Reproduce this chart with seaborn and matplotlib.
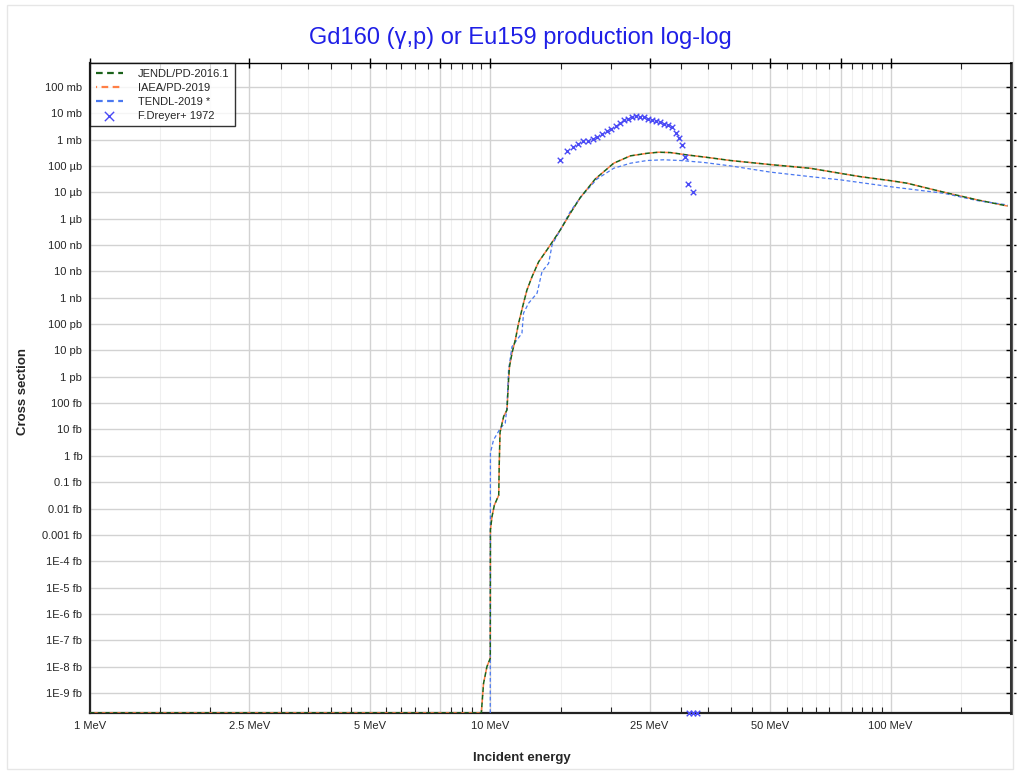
import matplotlib
matplotlib.use("Agg")
import matplotlib.pyplot as plt
import matplotlib.ticker as mticker
from matplotlib.patches import Rectangle
import pandas as pd
import seaborn as sns

# axis limits (barn / MeV)
y_floor = 1.75e-25
y_top = 0.8

# JENDL/PD-2016.1 (IAEA/PD-2019 lies on top of it)
jendl_e = [1.0, 9.5, 9.62, 9.81, 10.0, 10.01, 10.1, 10.24, 10.5, 10.53, 10.58, 10.8, 11.01,
           11.11, 11.17, 11.33, 11.55, 11.77, 12.11, 12.35, 12.72, 13.21, 13.86, 14.4, 14.96,
           15.85, 16.79, 18.3, 20.34, 22.39, 24.65, 26.35, 28.18, 31.03, 34.82, 39.81, 50.1,
           63.1, 75.0, 84.1, 100.0, 110.0, 136.0, 165.0, 196.0]
jendl_xs = [y_floor, y_floor, 2.3e-24, 1e-23, 2.1e-23, 1.55e-18, 4.9e-18, 1.35e-17, 3.2e-17,
            5e-16, 7.9e-15, 3.1e-14, 5.5e-14, 7.6e-13, 2.4e-12, 7.8e-12, 2.5e-11, 1.07e-10,
            6.2e-10, 1.95e-9, 6.3e-9, 2.3e-8, 6.5e-8, 1.55e-7, 3.7e-7, 1.6e-6, 6.3e-6, 3.2e-5,
            1.26e-4, 2.4e-4, 3.0e-4, 3.3e-4, 3.2e-4, 2.6e-4, 2.1e-4, 1.6e-4, 1.12e-4, 8.1e-5,
            5.2e-5, 3.9e-5, 2.75e-5, 2.2e-5, 1.0e-5, 5.1e-6, 3.0e-6]

# TENDL-2019
tendl_e = [10.0, 10.005, 10.01, 10.19, 10.48, 10.59, 10.9, 11.01, 11.11, 11.33, 11.66, 12.0,
           12.11, 12.47, 13.09, 13.47, 13.99, 14.27, 14.96, 15.85, 16.79, 18.49, 20.34, 22.39,
           24.65, 27.12, 29.85, 34.14, 39.81, 50.1, 63.1, 75.0, 100.0, 136.0, 165.0, 196.0]
tendl_xs = [y_floor, 1.55e-18, 1.3e-15, 4e-15, 8.3e-15, 1.12e-14, 1.74e-14, 7.4e-14, 1.8e-12,
            1.38e-11, 2.5e-11, 4.5e-11, 2.6e-10, 6.2e-10, 1.48e-9, 9.8e-9, 2.0e-8, 1e-7, 3.7e-7,
            1.86e-6, 6.3e-6, 3.2e-5, 8.1e-5, 1.26e-4, 1.6e-4, 1.7e-4, 1.6e-4, 1.35e-4, 1.0e-4,
            5.8e-5, 3.9e-5, 2.95e-5, 1.62e-5, 9.1e-6, 4.8e-6, 3.3e-6]

# F.Dreyer+ 1972 measurement
exp_e = [14.9, 15.55, 16.06, 16.57, 17.05, 17.55, 18.06, 18.51, 19.05, 19.61, 20.07, 20.57,
         21.05, 21.54, 22.1, 22.6, 23.13, 23.67, 24.23, 24.79, 25.37, 25.9, 26.5, 27.12, 27.76,
         28.4, 29.07, 29.64, 30.15, 30.6, 31.14, 32.13, 31.3, 32.1, 32.8]
exp_xs = [1.65e-4, 3.72e-4, 5.42e-4, 7.05e-4, 8.7e-4, 9.17e-4, 1.06e-3, 1.23e-3, 1.6e-3,
          2.08e-3, 2.61e-3, 3.4e-3, 4.3e-3, 5.45e-3, 6.27e-3, 7.08e-3, 7.73e-3, 7.46e-3,
          7.27e-3, 6.27e-3, 5.6e-3, 4.99e-3, 4.57e-3, 4.05e-3, 3.61e-3, 2.96e-3, 1.84e-3,
          1.19e-3, 6.13e-4, 2.26e-4, 2.03e-5, 1.06e-5, y_floor, y_floor, y_floor]

x_major = [1, 2.5, 5, 7.5, 10, 25, 50, 75, 100]
x_labels = ["1 MeV", "2.5 MeV", "5 MeV", "", "10 MeV", "25 MeV", "50 MeV", "", "100 MeV"]
x_minor = ([1.5, 2, 3, 3.5, 4, 4.5, 5.5, 6, 6.5, 7, 8, 8.5, 9, 9.5]
           + [15, 20, 30, 35, 40, 45, 55, 60, 65, 70, 80, 85, 90, 95, 150])

y_ticks = [1e-24, 1e-23, 1e-22, 1e-21, 1e-20, 1e-19, 1e-18, 1e-17, 1e-16, 1e-15, 1e-14, 1e-13,
           1e-12, 1e-11, 1e-10, 1e-9, 1e-8, 1e-7, 1e-6, 1e-5, 1e-4, 1e-3, 1e-2, 1e-1]
y_labels = ["1E-9 fb", "1E-8 fb", "1E-7 fb", "1E-6 fb", "1E-5 fb", "1E-4 fb", "0.001 fb",
            "0.01 fb", "0.1 fb", "1 fb", "10 fb", "100 fb", "1 pb", "10 pb", "100 pb",
            "1 nb", "10 nb", "100 nb", "1 µb", "10 µb", "100 µb", "1 mb", "10 mb", "100 mb"]

sns.set_style("white")
plt.rcParams['font.family'] = ['Liberation Sans', 'DejaVu Sans']

fig = plt.figure(figsize=(10.2, 7.73), dpi=100)
ax = fig.add_axes([90 / 1020, 1 - 713 / 773, 921 / 1020, 650 / 773])

jendl = pd.DataFrame({"e": jendl_e, "xs": jendl_xs})
tendl = pd.DataFrame({"e": tendl_e, "xs": tendl_xs})
exp = pd.DataFrame({"e": exp_e, "xs": exp_xs})

# orange drawn first, green over it with shifted dashes
sns.lineplot(data=jendl, x="e", y="xs", ax=ax, color="#ff7f45", sort=False, estimator=None,
             linewidth=1.1, label="IAEA/PD-2019", zorder=3)
sns.lineplot(data=jendl, x="e", y="xs", ax=ax, color="#1a621a", sort=False, estimator=None,
             linewidth=1.1, label="JENDL/PD-2016.1", zorder=4)
sns.lineplot(data=tendl, x="e", y="xs", ax=ax, color="#4a78f0", sort=False, estimator=None,
             linewidth=0.9, label="TENDL-2019 *", zorder=3)
ax.lines[0].set_linestyle((2.5, (3, 2)))
ax.lines[1].set_linestyle((0, (3, 2)))
ax.lines[2].set_linestyle((0, (3, 2)))
sns.scatterplot(data=exp, x="e", y="xs", ax=ax, marker="x", color="#4a4af5", s=16,
                linewidth=1.0, label="F.Dreyer+ 1972", zorder=5, clip_on=False)

ax.set_xscale("log")
ax.set_yscale("log")
ax.set_xlim(1, 200)
ax.set_ylim(y_floor, y_top)

ax.xaxis.set_major_locator(mticker.FixedLocator(x_major))
ax.xaxis.set_major_formatter(mticker.FixedFormatter(x_labels))
ax.xaxis.set_minor_locator(mticker.FixedLocator(x_minor))
ax.xaxis.set_minor_formatter(mticker.NullFormatter())
ax.yaxis.set_major_locator(mticker.FixedLocator(y_ticks))
ax.yaxis.set_major_formatter(mticker.FixedFormatter(y_labels))
ax.yaxis.set_minor_locator(mticker.NullLocator())

ax.grid(which="major", color="#d2d2d2", linewidth=1.0)
ax.grid(which="minor", axis="x", color="#efefef", linewidth=0.8)
ax.set_axisbelow(True)

ax.tick_params(axis="both", which="major", labelsize=8, color="black", length=4, width=1,
               pad=2)
ax.tick_params(axis="x", which="major", direction="inout", length=7, top=True)
ax.tick_params(axis="x", which="minor", direction="in", length=4, width=0.8, top=True,
               bottom=True)
ax.tick_params(axis="y", which="major", direction="inout", length=7, right=True)

for side in ["left", "bottom"]:
    ax.spines[side].set_linewidth(1.6)
    ax.spines[side].set_color("#222222")
ax.spines["top"].set_linewidth(1.0)
ax.spines["top"].set_color("black")
ax.spines["right"].set_linewidth(2.2)
ax.spines["right"].set_color("#333333")

ax.set_xlabel("Incident energy", fontsize=9.5, fontweight="bold")
ax.set_ylabel("Cross section", fontsize=9.5, fontweight="bold")
ax.xaxis.set_label_coords(0.469, -0.060)
ax.yaxis.set_label_coords(-0.066, 0.495)
fig.suptitle("Gd160 (γ,p) or Eu159 production log-log", x=0.51, y=0.965, fontsize=17,
             color="#1f1fe6")

handles, labels = ax.get_legend_handles_labels()
order = [labels.index(n) for n in ["JENDL/PD-2016.1", "IAEA/PD-2019", "TENDL-2019 *",
                                   "F.Dreyer+ 1972"]]
leg = ax.legend([handles[i] for i in order], [labels[i] for i in order], loc="upper left",
                fontsize=8, frameon=True, fancybox=False, borderaxespad=0,
                handlelength=2.5, handletextpad=1.3, borderpad=0.5, labelspacing=0.36)
leg.get_frame().set_edgecolor("black")
leg.get_frame().set_linewidth(1.0)
for lh in leg.get_lines():
    lh.set_linewidth(1.6)
leg.legend_handles[3].set_sizes([45])

fig.patches.append(Rectangle((7 / 1020, 4 / 773), 1006 / 1020, 764 / 773,
                             transform=fig.transFigure, fill=False, edgecolor="#e6e6e6",
                             linewidth=1.0))

fig.savefig("out.png", dpi=100)
